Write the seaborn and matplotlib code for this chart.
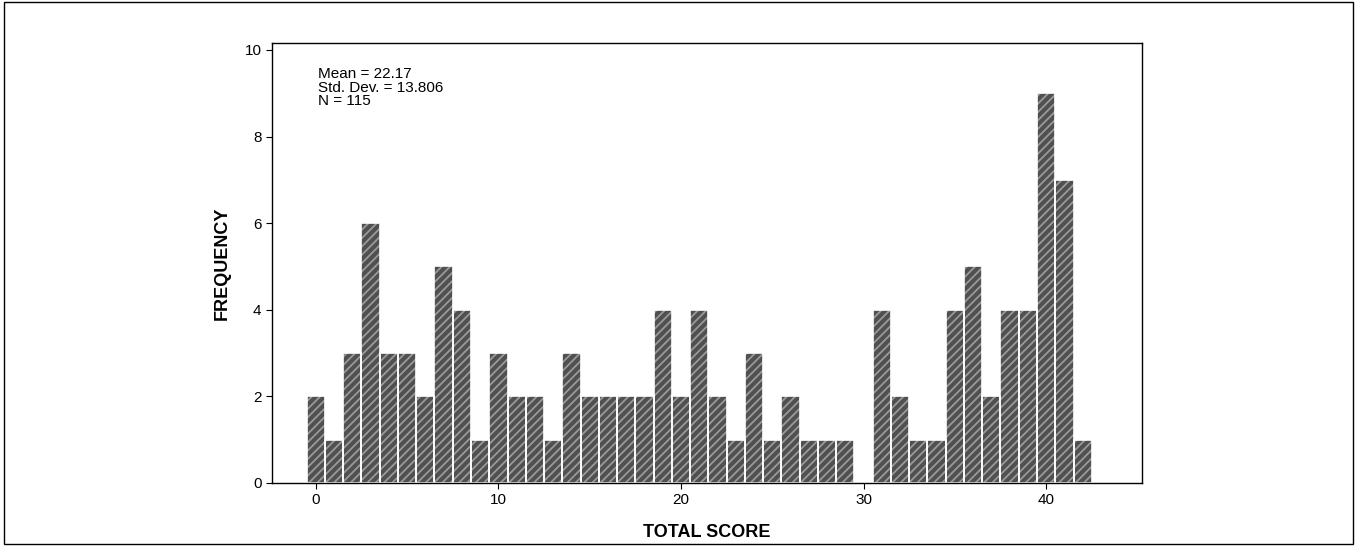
import numpy as np
import pandas as pd
import matplotlib
matplotlib.use("Agg")
import matplotlib.pyplot as plt
import seaborn as sns

scores = list(range(43))
freq = [2, 1, 3, 6, 3, 3, 2, 5, 4, 1, 3, 2, 2, 1, 3, 2, 2, 2, 2, 4, 2, 4, 2, 1, 3, 1,
        2, 1, 1, 1, 0, 4, 2, 1, 1, 4, 5, 2, 4, 4, 9, 7, 1]
stats_text = "Mean = 22.17\nStd. Dev. = 13.806\nN = 115"

df = pd.DataFrame({"score": scores, "freq": freq})

sns.set_style("white")
plt.rcParams['font.family'] = ['Liberation Sans', 'DejaVu Sans']
plt.rcParams['hatch.linewidth'] = 1.3
plt.rcParams['text.color'] = 'black'
plt.rcParams['axes.labelcolor'] = 'black'
plt.rcParams['xtick.color'] = 'black'
plt.rcParams['ytick.color'] = 'black'

fig = plt.figure(figsize=(13.57, 5.46), dpi=100)
ax = fig.add_axes([272 / 1357, 1 - 483 / 546, 870 / 1357, 440 / 546])

# hatched fill (hatch takes the edge colour), then white outlines on top
sns.histplot(data=df, x="score", weights="freq", discrete=True, ax=ax,
             color="#505050", edgecolor="#9a9a9a", linewidth=0, alpha=1, hatch="////")
sns.histplot(data=df, x="score", weights="freq", discrete=True, ax=ax,
             fill=False, color="white", edgecolor="white", linewidth=1.2)

ax.set_xlim(-2.4, 45.25)
ax.set_ylim(0, 10.16)
ax.set_xticks([0, 10, 20, 30, 40])
ax.set_yticks([0, 2, 4, 6, 8, 10])
ax.tick_params(axis="both", labelsize=11, length=4, direction="out", left=True, bottom=True)
for s in ax.spines.values():
    s.set_color("black")
    s.set_linewidth(1)
ax.set_xlabel("TOTAL SCORE", fontsize=13, fontweight="bold", labelpad=12)
ax.set_ylabel("FREQUENCY", fontsize=13, fontweight="bold", labelpad=10)
ax.text(0.053, 0.945, stats_text, transform=ax.transAxes, fontsize=11,
        va="top", ha="left", linespacing=0.95)

border = plt.Rectangle((0.003, 0.003), 0.994, 0.994, transform=fig.transFigure,
                       fill=False, edgecolor="black", linewidth=1)
fig.add_artist(border)

fig.savefig("out.png", dpi=100)
